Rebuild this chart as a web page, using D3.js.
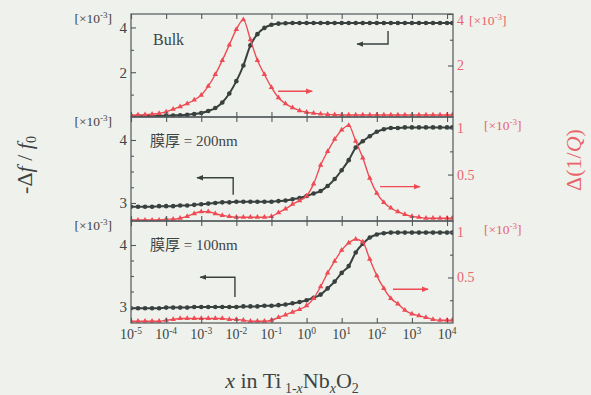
<!DOCTYPE html>
<html><head><meta charset="utf-8">
<script src="https://cdn.jsdelivr.net/npm/d3@7"></script>
<style>body{margin:0;background:#eff2ec;} svg{display:block}</style>
</head><body>
<svg id="c" width="591" height="395"></svg>
<script>
// ---------- data (log10 x positions and values) ----------
const xLog = [-5.0,-4.8,-4.6,-4.4,-4.2,-4.0,-3.8,-3.6,-3.4,-3.2,-3.0,-2.8,-2.6,-2.4,-2.2,-2.0,-1.8,-1.6,-1.4,-1.2,-1.0,-0.8,-0.6,-0.4,-0.2,
  0.0,0.2,0.4,0.6,0.8,1.0,1.2,1.4,1.6,1.8,2.0,2.2,2.4,2.6,2.8,3.0,3.2,3.4,3.6,3.8,4.0,4.15];

const bulkDf = [0.05,0.05,0.05,0.05,0.06,0.06,0.07,0.08,0.1,0.13,0.18,0.27,0.4,0.65,1.05,1.6,2.3,3.2,3.7,3.98,4.12,4.17,4.19,4.2,4.2,
  4.2,4.2,4.2,4.2,4.2,4.2,4.2,4.2,4.2,4.2,4.2,4.2,4.2,4.2,4.2,4.2,4.2,4.2,4.2,4.2,4.2,4.2];
const bulkQ = [0.07,0.08,0.09,0.11,0.14,0.2,0.3,0.4,0.52,0.66,0.85,1.2,1.65,2.2,2.8,3.4,3.78,3.0,2.2,1.65,1.15,0.75,0.52,0.36,0.25,
  0.19,0.15,0.12,0.1,0.09,0.08,0.08,0.08,0.08,0.08,0.08,0.08,0.08,0.08,0.08,0.08,0.08,0.08,0.08,0.08,0.08,0.08];

const f200Df = [2.94,2.94,2.94,2.94,2.95,2.95,2.95,2.96,2.96,2.97,2.98,2.99,3.0,3.01,3.01,3.02,3.02,3.02,3.02,3.02,3.02,3.03,3.04,3.06,3.08,
  3.11,3.15,3.19,3.27,3.38,3.52,3.68,3.88,3.98,4.06,4.13,4.17,4.19,4.19,4.2,4.2,4.2,4.2,4.2,4.2,4.2,4.2];
const f200Q = [0.01,0.01,0.01,0.01,0.01,0.02,0.02,0.03,0.05,0.08,0.1,0.1,0.08,0.06,0.05,0.04,0.04,0.04,0.04,0.04,0.05,0.09,0.13,0.18,0.22,
  0.27,0.4,0.6,0.75,0.88,0.98,1.03,0.86,0.68,0.46,0.3,0.2,0.14,0.1,0.07,0.05,0.04,0.03,0.03,0.03,0.03,0.03];

const f100Df = [2.98,2.98,2.98,2.98,2.98,2.99,2.99,2.99,2.99,3.0,3.0,3.0,3.0,3.0,3.0,3.0,3.01,3.01,3.01,3.02,3.02,3.03,3.04,3.06,3.08,
  3.11,3.15,3.2,3.3,3.41,3.55,3.66,3.88,4.02,4.12,4.17,4.19,4.2,4.2,4.2,4.2,4.2,4.2,4.2,4.2,4.2,4.2];
const f100Q = [0.02,0.02,0.02,0.02,0.02,0.03,0.04,0.05,0.05,0.05,0.05,0.05,0.05,0.05,0.04,0.04,0.03,0.02,0.02,0.02,0.03,0.06,0.09,0.12,0.15,
  0.19,0.27,0.4,0.55,0.68,0.8,0.88,0.92,0.89,0.7,0.52,0.38,0.27,0.21,0.14,0.1,0.08,0.06,0.04,0.03,0.03,0.03];

const panelLabels = ["Bulk", "膜厚 = 200nm", "膜厚 = 100nm"];
const xTickExps = [-5,-4,-3,-2,-1,0,1,2,3,4];
const leftMajor = [[2,4],[3,4],[3,4]];
const leftMinor = [[1,3],[3.25,3.5,3.75],[3.25,3.5,3.75]];
const rightMajor = [[2,4],[0.5,1],[0.5,1]];
const rightMinor = [[1,3],[0.25,0.75],[0.25,0.75]];
const leftDomains = [[0,4.6],[2.714,4.365],[2.742,4.387]];
const rightDomains = [[0,4],[0,1.12],[0,1.12]];
// annotation arrows (data units: log10 x, left / right axis values)
const blackArrowCornerX = [2.32,-2.09,-2.04];
const blackArrowStartY  = [3.84,3.13,3.16];
const blackArrowCornerY = [3.26,3.40,3.48];
const blackArrowHeadX   = [1.44,-3.12,-3.03];
const redArrowX0 = [-0.81,2.09,2.46];
const redArrowX1 = [0.16,3.23,3.46];
const redArrowY  = [1.0,0.37,0.37];

// ---------- layout ----------
const W=591,H=395, X0=131, X1=453;
const tops=[14,117,221], bots=[117,221,323];
const serif="'Liberation Serif','Times New Roman','Noto Sans CJK JP',serif";
const dark="#39413f", red="#ee4b55", redText="#e9636b", frameC="#50585a", textC="#3e4444";

const svg=d3.select("#c");
svg.append("rect").attr("width",W).attr("height",H).attr("fill","#eff2ec");
const defs=svg.append("defs");
function mk(id,col){
  defs.append("marker").attr("id",id).attr("viewBox","0 0 10 10").attr("refX",9).attr("refY",5)
   .attr("markerWidth",5).attr("markerHeight",5).attr("orient","auto")
   .append("path").attr("d","M0,1L10,5L0,9z").attr("fill",col);
}
mk("ahB",dark); mk("ahR",red);

const x=d3.scaleLog().domain([1e-5,Math.pow(10,4.17)]).range([X0,X1]);
const decades=xTickExps.map(e=>Math.pow(10,e));
const series=[[bulkDf,bulkQ],[f200Df,f200Q],[f100Df,f100Q]];

series.forEach(([df,q],i)=>{
  const yL=d3.scaleLinear().domain(leftDomains[i]).range([bots[i],tops[i]]);
  const yR=d3.scaleLinear().domain(rightDomains[i]).range([bots[i],tops[i]]);
  const g=svg.append("g");
  const cid="clip"+i;
  defs.append("clipPath").attr("id",cid).append("rect")
    .attr("x",X0).attr("y",tops[i]).attr("width",X1-X0).attr("height",bots[i]-tops[i]);
  const pg=g.append("g").attr("clip-path",`url(#${cid})`);
  const lx=d=>x(Math.pow(10,d[0]));
  const dfPts=xLog.map((l,k)=>[l,df[k]]);
  const qPts=xLog.map((l,k)=>[l,q[k]]);
  pg.append("path").datum(dfPts).attr("fill","none").attr("stroke",dark).attr("stroke-width",2)
    .attr("d",d3.line().x(lx).y(d=>yL(d[1])).curve(d3.curveMonotoneX));
  pg.selectAll("circle.b").data(dfPts).join("circle").attr("class","b")
    .attr("cx",lx).attr("cy",d=>yL(d[1])).attr("r",2.3).attr("fill",dark);
  pg.append("path").datum(qPts).attr("fill","none").attr("stroke",red).attr("stroke-width",1.4)
    .attr("d",d3.line().x(lx).y(d=>yR(d[1])).curve(d3.curveMonotoneX));
  pg.selectAll("path.tri").data(qPts).join("path").attr("class","tri")
    .attr("d",d3.symbol(d3.symbolTriangle,13)).attr("fill",red)
    .attr("transform",d=>`translate(${lx(d)},${yR(d[1])})`);

  // frame
  g.append("rect").attr("x",X0).attr("y",tops[i]).attr("width",X1-X0).attr("height",bots[i]-tops[i])
    .attr("fill","none").attr("stroke",frameC).attr("stroke-width",1.2);

  // x ticks (inward) top and bottom
  const axB=g.append("g").attr("transform",`translate(0,${bots[i]})`)
    .call(d3.axisBottom(x).tickValues(decades).tickSize(-5).tickFormat(""));
  const axT=g.append("g").attr("transform",`translate(0,${tops[i]})`)
    .call(d3.axisTop(x).tickValues(decades).tickSize(-5).tickFormat(""));
  // left axis
  const axL=g.append("g").attr("transform",`translate(${X0},0)`)
    .call(d3.axisLeft(yL).tickValues(leftMajor[i]).tickSize(-5).tickPadding(4).tickFormat(d3.format("")));
  const axLm=g.append("g").attr("transform",`translate(${X0},0)`)
    .call(d3.axisLeft(yL).tickValues(leftMinor[i]).tickSize(-3).tickFormat(""));
  // right axis
  const axR=g.append("g").attr("transform",`translate(${X1},0)`)
    .call(d3.axisRight(yR).tickValues(rightMajor[i]).tickSize(-5).tickPadding(4).tickFormat(d3.format("")));
  const axRm=g.append("g").attr("transform",`translate(${X1},0)`)
    .call(d3.axisRight(yR).tickValues(rightMinor[i]).tickSize(-3).tickFormat(""));
  [axB,axT,axL,axLm,axR,axRm].forEach(a=>{
    a.select(".domain").remove();
    a.selectAll("line").attr("stroke",frameC).attr("stroke-width",1.1);
  });
  axL.selectAll("text").attr("font-family",serif).attr("font-size",15).attr("fill",textC);
  axR.selectAll("text").attr("font-family",serif).attr("font-size",14).attr("fill",redText)
    .attr("dy", d=> (i===0 && d===4) ? "0.75em" : "0.32em");

  // [x10^-3] unit labels
  const ul=g.append("text").attr("x",112).attr("y",tops[i]+9).attr("text-anchor","end")
    .attr("font-family",serif).attr("font-size",13.5).attr("fill",textC);
  ul.append("tspan").text("[×10");
  ul.append("tspan").attr("dy",-5).attr("font-size",9).text("-3");
  ul.append("tspan").attr("dy",5).text("]");
  const ur=g.append("text").attr("x",i===0?469:484).attr("y",tops[i]+(i===0?11:13))
    .attr("font-family",serif).attr("font-size",13.5).attr("fill",redText);
  ur.append("tspan").text("[×10");
  ur.append("tspan").attr("dy",-5).attr("font-size",9).text("-3");
  ur.append("tspan").attr("dy",5).text("]");

  // panel label
  g.append("text").attr("x",i===0?153:150).attr("y",i===0?45:tops[i]+29)
    .attr("font-family",serif).attr("font-size",i===0?16:15).attr("fill",textC).text(panelLabels[i]);

  // arrows
  const ax=l=>x(Math.pow(10,l));
  g.append("path").attr("fill","none").attr("stroke",dark).attr("stroke-width",1.4)
    .attr("marker-end","url(#ahB)")
    .attr("d",`M${ax(blackArrowCornerX[i])},${yL(blackArrowStartY[i])}L${ax(blackArrowCornerX[i])},${yL(blackArrowCornerY[i])}L${ax(blackArrowHeadX[i])},${yL(blackArrowCornerY[i])}`);
  g.append("path").attr("fill","none").attr("stroke",red).attr("stroke-width",1.4)
    .attr("marker-end","url(#ahR)")
    .attr("d",`M${ax(redArrowX0[i])},${yR(redArrowY[i])}L${ax(redArrowX1[i])},${yR(redArrowY[i])}`);
});

// x tick labels
const xl=svg.append("g");
xTickExps.forEach(e=>{
  const t=xl.append("text").attr("x",x(Math.pow(10,e))).attr("y",339).attr("text-anchor","middle")
    .attr("font-family",serif).attr("font-size",14).attr("fill",textC);
  t.append("tspan").text("10");
  t.append("tspan").attr("dy",-5).attr("font-size",9.5).text(e);
});

// axis titles
const yt=svg.append("text").attr("transform","translate(32,165) rotate(-90)").attr("text-anchor","middle")
  .attr("font-family",serif).attr("font-size",22).attr("fill",textC);
yt.append("tspan").text("-Δ");
yt.append("tspan").attr("font-style","italic").text("f");
yt.append("tspan").text(" / ");
yt.append("tspan").attr("font-style","italic").text("f");
yt.append("tspan").attr("dy",4).attr("font-size",14).text("0");

const rt=svg.append("text").attr("transform","translate(581,160) rotate(-90)").attr("text-anchor","middle")
  .attr("font-family",serif).attr("font-size",22).attr("fill",redText);
rt.append("tspan").text("Δ(1/");
rt.append("tspan").attr("font-style","italic").text("Q");
rt.append("tspan").text(")");

const xt=svg.append("text").attr("x",292).attr("y",388).attr("text-anchor","middle")
  .attr("font-family",serif).attr("font-size",22).attr("fill",textC);
xt.append("tspan").attr("font-style","italic").text("x");
xt.append("tspan").text(" in Ti");
xt.append("tspan").attr("dy",5).attr("font-size",14).text(" 1-");
xt.append("tspan").attr("font-size",14).attr("font-style","italic").text("x");
xt.append("tspan").attr("dy",-5).text("Nb");
xt.append("tspan").attr("dy",5).attr("font-size",14).attr("font-style","italic").text("x");
xt.append("tspan").attr("dy",-5).text("O");
xt.append("tspan").attr("dy",5).attr("font-size",14).text("2");
</script>
</body></html>
